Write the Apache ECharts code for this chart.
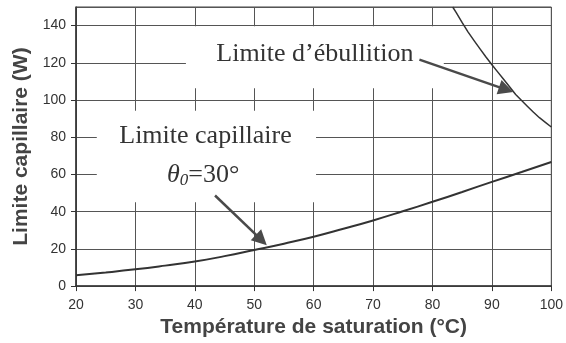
<!DOCTYPE html>
<html><head><meta charset="utf-8">
<script src="https://cdn.jsdelivr.net/npm/echarts@6/dist/echarts.min.js"></script>
<style>html,body{margin:0;padding:0;background:#fff}#c{width:566px;height:343px}</style>
</head><body><div id="c"></div>
<script>
// Data
const capTemps = [20,25,30,35,40,45,50,55,60,65,70,75,80,85,90,95,100];
const capValues = [5.8,7.3,9.0,11.0,13.2,16.1,19.4,22.8,26.5,30.8,35.3,40.2,45.3,50.6,56.0,61.3,66.7];
const boilTemps = [83.4,84,85,86,87,88,89,90,91,92,93,94,95,96,97,98,99,100];
const boilValues = [150,147,141.6,136.5,131.9,127.5,123.1,119,115,111,107,103,99.7,96.5,93.4,90.5,88,85.5];
const xTicks = [20,30,40,50,60,70,80,90,100];
const yTicks = [0,20,40,60,80,100,120,140];
// annotations (data coordinates)
const boilLabel = {text:"Limite d\u2019ébullition", x:[38.5,81.9], y:[139.7,106.3], at:[60.2,124.5]};
const capLabel = {text:"Limite capillaire", x:[23.5,60.4], y:[94.2,45], at:[41.8,80.5], at2:[41.4,59.5]};
const arrows = [[[77.8,121.7],[92.4,105.6]], [[43.4,48.7],[51.2,24.8]]];

const chart = echarts.init(document.getElementById('c'), null, {renderer:'canvas'});
const sansAxis = {fontFamily:'Liberation Sans, Arial, sans-serif', fontSize:14, color:'#333'};
const option = {
  animation:false,
  grid:{left:76,right:11,top:7,bottom:53,show:true,borderColor:'#444',borderWidth:1},
  xAxis:{type:'value',min:xTicks[0],max:xTicks[xTicks.length-1],interval:10,
    name:'Température de saturation (°C)',nameLocation:'middle',nameGap:28,
    nameTextStyle:{fontFamily:'Liberation Sans, Arial, sans-serif',fontSize:21,fontWeight:'bold',color:'#444'},
    axisLine:{lineStyle:{color:'#333',width:1.5}},
    axisTick:{show:true,length:5,lineStyle:{color:'#333'}},
    axisLabel:Object.assign({margin:12},sansAxis),
    splitLine:{show:true,lineStyle:{color:'#555',width:1}}},
  yAxis:{type:'value',min:0,max:150,interval:20,
    name:'Limite capillaire (W)',nameLocation:'middle',nameGap:44,
    nameTextStyle:{fontFamily:'Liberation Sans, Arial, sans-serif',fontSize:21,fontWeight:'bold',color:'#444'},
    axisLine:{show:true,lineStyle:{color:'#333',width:1.5}},
    axisTick:{show:true,length:5,lineStyle:{color:'#333'}},
    axisLabel:Object.assign({margin:10,showMaxLabel:false},sansAxis),
    splitLine:{show:true,lineStyle:{color:'#555',width:1}}},
  series:[
    {type:'line',smooth:true,symbol:'none',data:capTemps.map((t,i)=>[t,capValues[i]]),
      lineStyle:{color:'#333',width:2},z:3},
    {type:'line',smooth:false,symbol:'none',data:boilTemps.map((t,i)=>[t,boilValues[i]]),
      lineStyle:{color:'#333',width:1.5,join:'round'},z:3,
      markLine:{silent:true,symbol:['none','triangle'],symbolSize:15,label:{show:false},
        lineStyle:{color:'#4a4a4a',width:2.5,type:'solid'},
        itemStyle:{color:'#4a4a4a'},
        data:arrows.map(a=>[{coord:a[0]},{coord:a[1]}])}}
  ]
};
chart.setOption(option);

function px(p){return chart.convertToPixel({gridIndex:0},p);}
function box(l){
  const a=px([l.x[0],l.y[0]]), b=px([l.x[1],l.y[1]]);
  return {type:'rect',z:1,shape:{x:a[0],y:a[1],width:b[0]-a[0],height:b[1]-a[1]},style:{fill:'#fff'},silent:true};
}
const serif='Liberation Serif, Times New Roman, serif';
const g=[box(boilLabel),box(capLabel)];
let p=px(boilLabel.at);
g.push({type:'text',z:2,x:p[0],y:p[1],style:{text:boilLabel.text,font:'26px '+serif,fill:'#333',align:'center',verticalAlign:'middle'}});
p=px(capLabel.at);
g.push({type:'text',z:2,x:p[0],y:p[1],style:{text:capLabel.text,font:'26px '+serif,fill:'#333',align:'center',verticalAlign:'middle'}});
p=px(capLabel.at2);
g.push({type:'text',z:2,x:p[0],y:p[1],style:{
  text:'{t|θ}{s|0}{n|=30°}',align:'center',verticalAlign:'middle',fill:'#333',
  rich:{t:{font:'italic 26px '+serif,fill:'#333'},s:{font:'italic 17px '+serif,fill:'#333',padding:[10,0,0,0]},n:{font:'26px '+serif,fill:'#333'}}}});
chart.setOption({graphic:g});
</script></body></html>
